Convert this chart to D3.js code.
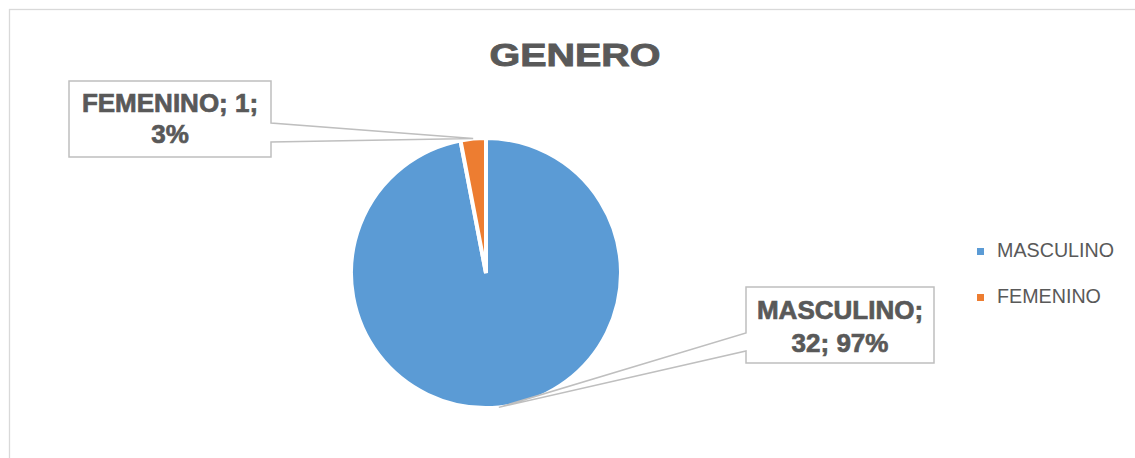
<!DOCTYPE html>
<html>
<head>
<meta charset="utf-8">
<script src="https://cdn.jsdelivr.net/npm/d3@7"></script>
<style>
  html, body { margin: 0; padding: 0; background: #fff; }
  svg { display: block; }
</style>
</head>
<body>
<svg id="chart" width="1135" height="458"></svg>
<script>
const categories = ["MASCULINO", "FEMENINO"];
const values = [32, 1];
const percentLabels = ["97%", "3%"];
const colors = ["#5B9BD5", "#ED7D31"];
const title = "GENERO";

const svg = d3.select("#chart");

// chart area border
svg.append("rect").attr("x", 9.5).attr("y", 9.5).attr("width", 1300).attr("height", 600)
  .attr("fill", "#fff").attr("stroke", "#D9D9D9").attr("stroke-width", 1.3);

// title
svg.append("text").attr("x", 575).attr("y", 66).attr("text-anchor", "middle")
  .attr("font-family", "Liberation Sans, Arial, sans-serif").attr("font-weight", "bold")
  .attr("font-size", 32).attr("fill", "#595959")
  .attr("stroke", "#595959").attr("stroke-width", 0.9)
  .attr("textLength", 171).attr("lengthAdjust", "spacingAndGlyphs")
  .text(title);

const cx = 486, cy = 273, R = 135;
const data = categories.map((c, i) => ({ name: c, value: values[i], pct: percentLabels[i], color: colors[i] }));
const pie = d3.pie().value(d => d.value).sort(null).startAngle(0).endAngle(2 * Math.PI);
const arcs = pie(data);
const arc = d3.arc().innerRadius(0).outerRadius(R);

const g = svg.append("g").attr("transform", `translate(${cx},${cy})`);
g.selectAll("path").data(arcs).join("path")
  .attr("d", arc)
  .attr("fill", d => d.data.color)
  .attr("stroke", "#fff").attr("stroke-width", 4).attr("stroke-linejoin", "miter");

// callouts
function anchorOf(a) {
  const m = (a.startAngle + a.endAngle) / 2;
  return [cx + R * Math.sin(m), cy - R * Math.cos(m)];
}
const boxes = [
  { x0: 746, y0: 287, x1: 934, y1: 363, side: "left", w0: 333, w1: 351, lines: ["MASCULINO;", "32; 97%"], base: [319, 352] },
  { x0: 69, y0: 81, x1: 271, y1: 157, side: "right", w0: 123, w1: 142, lines: ["FEMENINO; 1;", "3%"], base: [112, 143] }
];
arcs.forEach((a, i) => {
  const b = boxes[i];
  const [ax, ay] = anchorOf(a);
  let p;
  if (b.side === "left") {
    p = `M${b.x0},${b.y0}H${b.x1}V${b.y1}H${b.x0}V${b.w1}L${ax},${ay}L${b.x0},${b.w0}Z`;
  } else {
    p = `M${b.x0},${b.y0}H${b.x1}V${b.w0}L${ax},${ay}L${b.x1},${b.w1}V${b.y1}H${b.x0}Z`;
  }
  svg.append("path").attr("d", p).attr("fill", "#fff").attr("stroke", "#BFBFBF").attr("stroke-width", 1.5);
  const tx = (b.x0 + b.x1) / 2;
  b.lines.forEach((t, k) => {
    svg.append("text").attr("x", tx).attr("y", b.base[k]).attr("text-anchor", "middle")
      .attr("font-family", "Liberation Sans, Arial, sans-serif").attr("font-weight", "bold")
      .attr("font-size", 26).attr("fill", "#595959")
      .attr("stroke", "#595959").attr("stroke-width", 0.7)
      .text(t);
  });
});

// legend
const lg = svg.append("g");
data.forEach((d, i) => {
  const y = 257 + i * 46;
  lg.append("rect").attr("x", 977).attr("y", y - 9).attr("width", 7).attr("height", 7).attr("fill", d.color);
  lg.append("text").attr("x", 997).attr("y", y)
    .attr("font-family", "Liberation Sans, Arial, sans-serif").attr("font-size", 19.7)
    .attr("fill", "#595959").text(d.name);
});
</script>
</body>
</html>
